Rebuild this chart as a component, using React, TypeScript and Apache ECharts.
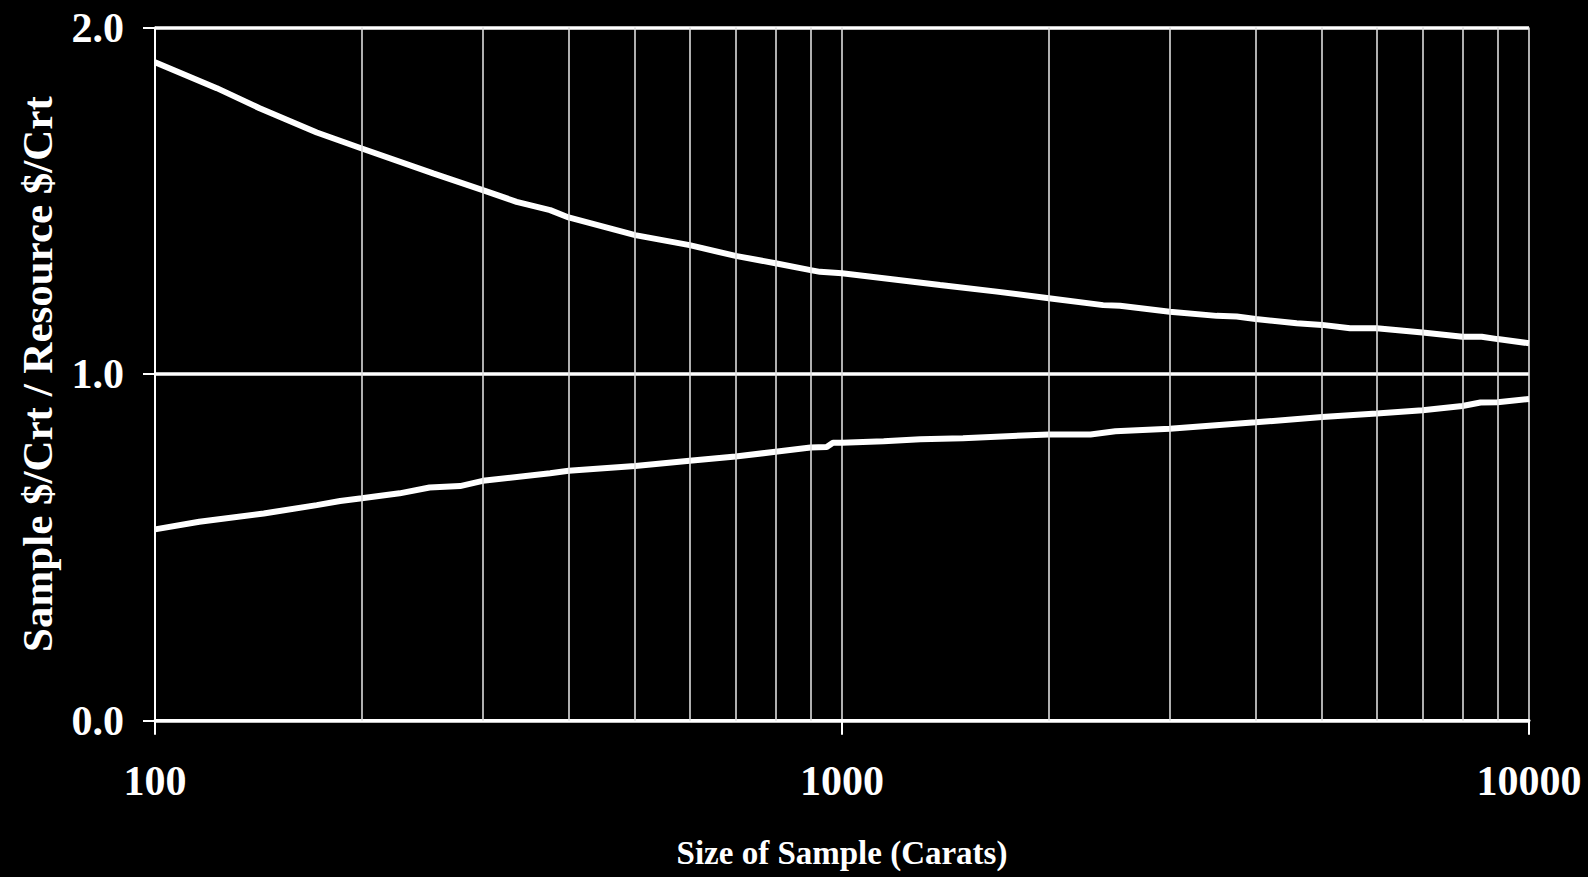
import React, { useEffect, useRef } from "react";
import * as echarts from "echarts";

// Sample size in carats (log scale) and the ratio of sample $/crt to resource $/crt
const upperSizes = [100, 123, 142, 172, 200, 254, 300, 336, 376, 400, 500, 600, 700, 800, 900, 929, 1000, 1389, 1680, 2000, 2399, 2539, 3000, 3511, 3754, 4000, 4590, 5000, 5489, 6000, 7000, 8000, 8535, 9000, 10000];
const upperRatios = [1.9, 1.825, 1.767, 1.697, 1.651, 1.579, 1.531, 1.497, 1.473, 1.452, 1.401, 1.372, 1.341, 1.32, 1.3, 1.295, 1.291, 1.257, 1.238, 1.219, 1.199, 1.197, 1.18, 1.168, 1.166, 1.159, 1.147, 1.142, 1.132, 1.132, 1.12, 1.108, 1.108, 1.101, 1.089];

const lowerSizes = [100, 116, 144, 172, 186, 200, 227, 251, 278, 300, 376, 400, 500, 600, 700, 800, 900, 950, 970, 1000, 1150, 1300, 1500, 2000, 2300, 2500, 3000, 4000, 5000, 6000, 7000, 8000, 8500, 9000, 10000];
const lowerRatios = [0.552, 0.574, 0.598, 0.622, 0.634, 0.642, 0.656, 0.673, 0.677, 0.692, 0.714, 0.721, 0.735, 0.75, 0.762, 0.776, 0.788, 0.79, 0.802, 0.802, 0.806, 0.812, 0.815, 0.826, 0.826, 0.835, 0.842, 0.861, 0.876, 0.886, 0.896, 0.908, 0.918, 0.919, 0.928];

// Intermediate log-cycle gridlines
const minorGrid = [200, 300, 400, 500, 600, 700, 800, 900, 2000, 3000, 4000, 5000, 6000, 7000, 8000, 9000];

const FONT = "'Liberation Serif', 'Times New Roman', serif";

export default function App() {
  const ref = useRef<HTMLDivElement>(null);

  useEffect(() => {
    if (!ref.current) return;
    const chart = echarts.init(ref.current, undefined, { renderer: "svg" });
    const pair = (xs: number[], ys: number[]) => xs.map((x, i) => [x, ys[i]]);

    chart.setOption({
      animation: false,
      backgroundColor: "#000000",
      grid: { left: 155, right: 59, top: 27.5, bottom: 156.3 },
      xAxis: {
        type: "log",
        logBase: 10,
        min: 100,
        max: 10000,
        name: "Size of Sample (Carats)",
        nameLocation: "middle",
        nameGap: 116,
        nameTextStyle: { color: "#ffffff", fontFamily: FONT, fontWeight: "bold", fontSize: 33 },
        axisLine: { show: true, lineStyle: { color: "#ffffff", width: 3 } },
        axisTick: { show: true, inside: false, length: 14, lineStyle: { color: "#ffffff", width: 2 } },
        axisLabel: {
          color: "#ffffff",
          fontFamily: FONT,
          fontWeight: "bold",
          fontSize: 42,
          margin: 39,
          formatter: (v: number) => String(Math.round(v)),
        },
        splitLine: { show: true, lineStyle: { color: "#dcdcdc", width: 1.6 } },
      },
      yAxis: {
        type: "value",
        min: 0,
        max: 2,
        interval: 1,
        name: "Sample $/Crt / Resource $/Crt",
        nameLocation: "middle",
        nameRotate: 90,
        nameGap: 96,
        nameTextStyle: { color: "#ffffff", fontFamily: FONT, fontWeight: "bold", fontSize: 43 },
        axisLine: { show: true, lineStyle: { color: "#ffffff", width: 2 } },
        axisTick: { show: true, inside: false, length: 12, lineStyle: { color: "#ffffff", width: 2 } },
        axisLabel: {
          color: "#ffffff",
          fontFamily: FONT,
          fontWeight: "bold",
          fontSize: 42,
          margin: 31,
          formatter: (v: number) => v.toFixed(1),
        },
        splitLine: { show: true, lineStyle: { color: "#ffffff", width: 3.5 } },
      },
      series: [
        {
          type: "line",
          data: [],
          silent: true,
          z: 1,
          markLine: {
            silent: true,
            symbol: ["none", "none"],
            label: { show: false },
            lineStyle: { color: "#dcdcdc", width: 1.6, type: "solid" },
            data: minorGrid.map((v) => ({ xAxis: v })),
          },
        },
        {
          type: "line",
          data: pair(upperSizes, upperRatios),
          showSymbol: false,
          z: 3,
          lineStyle: { color: "#ffffff", width: 6 },
        },
        {
          type: "line",
          data: pair(lowerSizes, lowerRatios),
          showSymbol: false,
          z: 3,
          lineStyle: { color: "#ffffff", width: 6 },
        },
      ],
    });

    return () => chart.dispose();
  }, []);

  return (
    <div
      ref={ref}
      style={{ position: "fixed", left: 0, top: 0, width: 1588, height: 877, background: "#000" }}
    />
  );
}
